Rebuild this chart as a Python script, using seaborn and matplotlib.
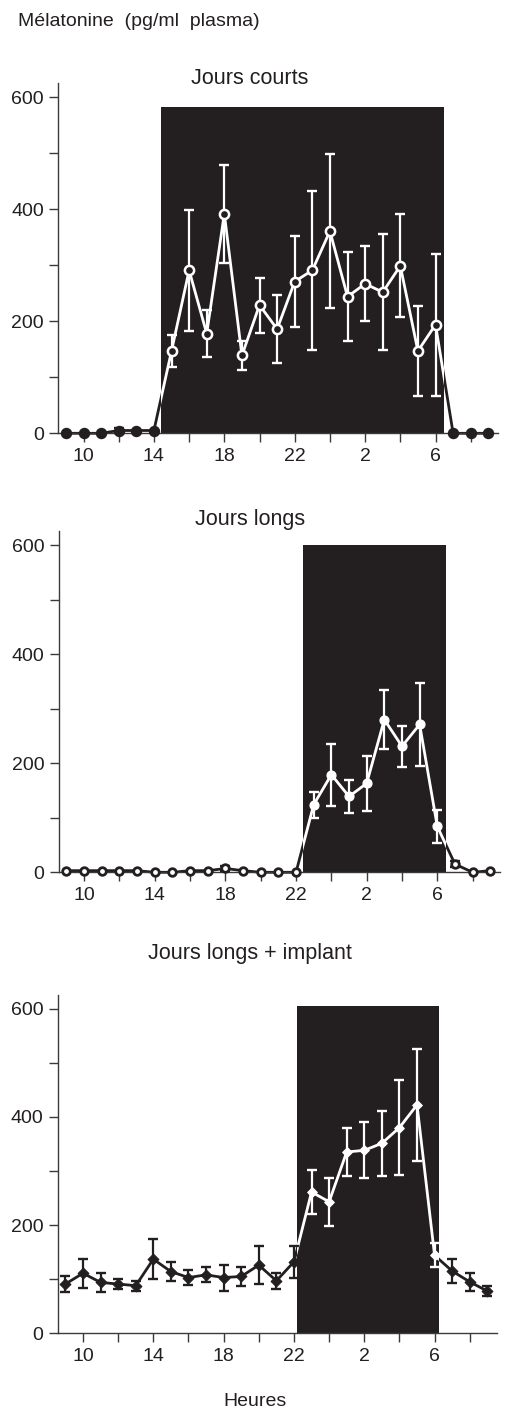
import matplotlib
matplotlib.use("Agg")
import matplotlib.pyplot as plt
import numpy as np
import pandas as pd
import seaborn as sns
from matplotlib.patches import Rectangle
from matplotlib.ticker import FixedLocator

# ---------------- data ----------------
hours = list(range(9, 34))  # 9h ... 9h next day
xtick_major = [10, 14, 18, 22, 26, 30]
xtick_labels = ["10", "14", "18", "22", "2", "6"]
xtick_minor = [12, 16, 20, 24, 28, 32]
ytick_major = [0, 200, 400, 600]
ytick_minor = [100, 300, 500]

courts_mean = [0, 0, 0, 5, 5, 5, 147, 291, 178, 392, 139, 229, 186, 271, 291,
               361, 244, 267, 252, 299, 147, 194, 0, 0, 0]
courts_err = [0, 0, 0, 5, 0, 0, 28, 108, 42, 87, 26, 49, 61, 82, 142,
              137, 79, 67, 104, 92, 80, 127, 0, 0, 0]

longs_mean = [3, 3, 3, 3, 3, 0, 0, 3, 3, 7, 3, 0, 0, 0, 124,
              179, 139, 163, 280, 231, 271, 84, 15, 0, 3]
longs_err = [0, 0, 0, 0, 0, 0, 0, 0, 0, 5, 0, 0, 0, 0, 24,
             57, 30, 50, 54, 38, 76, 30, 6, 0, 0]

implant_mean = [91, 111, 94, 91, 88, 137, 114, 103, 108, 103, 105, 126, 97, 132, 261,
                243, 335, 338, 351, 380, 422, 144, 115, 95, 78]
implant_err = [14, 27, 18, 10, 9, 37, 18, 14, 14, 24, 18, 35, 15, 30, 40,
               44, 45, 52, 60, 88, 104, 22, 22, 16, 10]

titles = ["Jours courts", "Jours longs", "Jours longs + implant"]
ylabel_text = "Mélatonine  (pg/ml  plasma)"
xlabel_text = "Heures"
dark_start = [14.42, 22.42, 22.2]
dark_end = [30.47, 30.52, 30.25]
dark_top = [583, 600, 604]

# ---------------- style ----------------
sns.set_style("ticks")
plt.rcParams["font.family"] = ["Liberation Sans", "DejaVu Sans"]
DARK = "#231f20"
AXC = "#3a3a3a"
FS_TICK = 14
FS_TITLE = 15.5
FS_LAB = 14

W, H = 509, 1410
fig = plt.figure(figsize=(W / 100, H / 100), dpi=100)

# axes rectangles in pixels: left, top, right, bottom
boxes = [(58, 83.3, 498, 433.3), (58.5, 531.4, 500, 872.3), (57.5, 995, 497, 1333.3)]
title_y = [78, 520, 954]

def add_panel(box, mean, err, start, end, top, kind):
    l, t, r, b = box
    ax = fig.add_axes([l / W, 1 - b / H, (r - l) / W, (b - t) / H])
    ax.set_xlim(8.55, 33.55)
    ax.set_ylim(0, 625)
    df = pd.DataFrame({"h": hours, "v": mean, "e": err})
    inside = (df["h"] > start) & (df["h"] < end)

    rect = Rectangle((start, 0), end - start, top, facecolor=DARK,
                     edgecolor="none", zorder=1)
    ax.add_patch(rect)

    # black line everywhere, white line clipped to the dark period
    sns.lineplot(data=df, x="h", y="v", ax=ax, color=DARK, lw=2.0,
                 errorbar=None, zorder=2)
    ax.lines[-1].set_clip_on(False)
    sns.lineplot(data=df, x="h", y="v", ax=ax, color="white", lw=2.0,
                 errorbar=None, zorder=2.1)
    ax.lines[-1].set_clip_path(rect)

    # error bars
    for mask, col in [(~inside, DARK), (inside, "white")]:
        sub = df[mask & (df["e"] > 0)]
        if len(sub):
            eb = ax.errorbar(sub["h"], sub["v"], yerr=sub["e"], fmt="none",
                             ecolor=col, elinewidth=1.6, capsize=3.4,
                             capthick=1.7, zorder=3)
            for art in eb.get_children():
                art.set_clip_on(False)

    out = df[~inside]
    ins = df[inside]
    if kind == "courts":
        sns.scatterplot(data=out, x="h", y="v", ax=ax, marker="o", s=52,
                        color=DARK, edgecolor=DARK, linewidth=1.0, zorder=4,
                        clip_on=False)
        sns.scatterplot(data=ins, x="h", y="v", ax=ax, marker="o", s=44,
                        color=DARK, edgecolor="white", linewidth=1.8, zorder=4,
                        clip_on=False)
    elif kind == "longs":
        sns.scatterplot(data=out, x="h", y="v", ax=ax, marker="o", s=30,
                        color="white", edgecolor=DARK, linewidth=2.0, zorder=4,
                        clip_on=False)
        sns.scatterplot(data=ins, x="h", y="v", ax=ax, marker="o", s=40,
                        color="white", edgecolor="white", linewidth=1.0, zorder=4,
                        clip_on=False)
    else:
        sns.scatterplot(data=out, x="h", y="v", ax=ax, marker="D", s=30,
                        color=DARK, edgecolor=DARK, linewidth=0.8, zorder=4,
                        clip_on=False)
        sns.scatterplot(data=ins, x="h", y="v", ax=ax, marker="D", s=24,
                        color="white", edgecolor="white", linewidth=0.8, zorder=4,
                        clip_on=False)

    sns.despine(ax=ax)
    for s in ["left", "bottom"]:
        ax.spines[s].set_color(AXC)
        ax.spines[s].set_linewidth(1.0)
    ax.xaxis.set_major_locator(FixedLocator(xtick_major))
    ax.xaxis.set_minor_locator(FixedLocator(xtick_minor))
    ax.set_xticklabels(xtick_labels)
    ax.yaxis.set_major_locator(FixedLocator(ytick_major))
    ax.yaxis.set_minor_locator(FixedLocator(ytick_minor))
    ax.set_yticklabels([str(v) for v in ytick_major])
    ax.tick_params(which="both", direction="out", length=6.5, width=1.0,
                   color=AXC, labelsize=FS_TICK, labelcolor=DARK)
    ax.tick_params(axis="x", which="both", pad=4)
    ax.tick_params(axis="y", which="both", pad=3.5)
    ax.set_xlabel("")
    ax.set_ylabel("")
    ax.set_facecolor("white")
    return ax

data = [(courts_mean, courts_err, "courts"),
        (longs_mean, longs_err, "longs"),
        (implant_mean, implant_err, "implant")]
for i, (m, e, k) in enumerate(data):
    add_panel(boxes[i], m, e, dark_start[i], dark_end[i], dark_top[i], k)
    fig.text(250 / W, 1 - title_y[i] / H, titles[i], ha="center", va="center",
             fontsize=FS_TITLE, color=DARK)

fig.text(18 / W, 1 - 22 / H, ylabel_text, ha="left", va="center",
         fontsize=FS_LAB, color=DARK)
fig.text(255 / W, 1 - 1401 / H, xlabel_text, ha="center", va="center",
         fontsize=FS_LAB, color=DARK)

fig.savefig("out.png", dpi=100, facecolor="white")
